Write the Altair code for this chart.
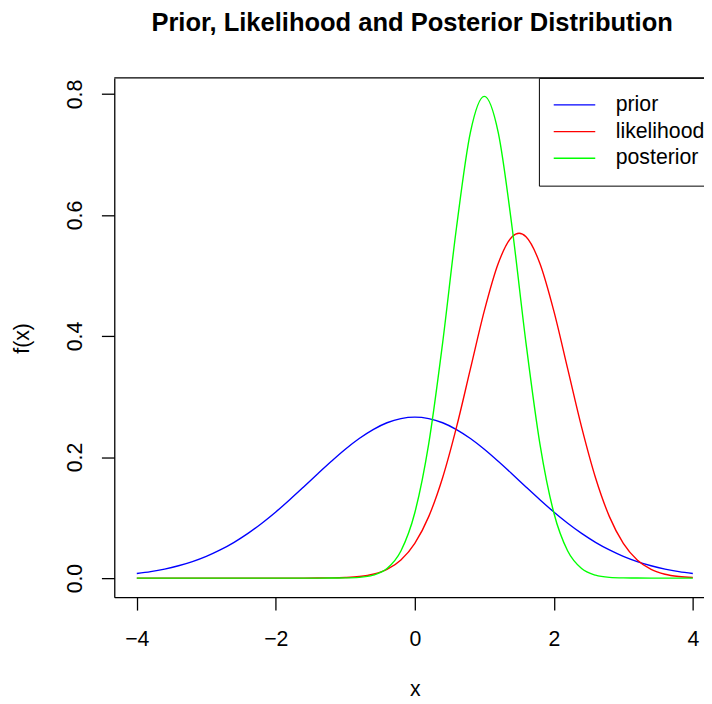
import altair as alt
import pandas as pd

# ---- data ----
series_names = ["prior", "likelihood", "posterior"]
series_colors = ["#0000ff", "#ff0000", "#00ff00"]

x_grid = [-4.0, -3.8, -3.6, -3.4, -3.2, -3.0, -2.8, -2.6, -2.4, -2.2,
          -2.0, -1.8, -1.6, -1.4, -1.2, -1.0, -0.8, -0.6, -0.4, -0.2,
          0.0, 0.2, 0.4, 0.6, 0.8, 1.0, 1.2, 1.4, 1.6, 1.8,
          2.0, 2.2, 2.4, 2.6, 2.8, 3.0, 3.2, 3.4, 3.6, 3.8, 4.0]

prior = [0.0076, 0.0107, 0.0149, 0.0204, 0.0273, 0.0360, 0.0466, 0.0592, 0.0739, 0.0907,
         0.1093, 0.1295, 0.1506, 0.1721, 0.1931, 0.2130, 0.2307, 0.2455, 0.2567, 0.2636,
         0.2660, 0.2636, 0.2567, 0.2455, 0.2307, 0.2130, 0.1931, 0.1721, 0.1506, 0.1295,
         0.1093, 0.0907, 0.0739, 0.0592, 0.0466, 0.0360, 0.0273, 0.0204, 0.0149, 0.0107, 0.0076]

x_likelihood = [-4.0, -3.8, -3.6, -3.4, -3.2, -3.0, -2.8, -2.6, -2.4, -2.2,
                -2.0, -1.8, -1.6, -1.4, -1.2, -1.0, -0.8, -0.6, -0.4, -0.2,
                0.0, 0.2, 0.4, 0.6, 0.8, 1.0, 1.2, 1.4, 1.5, 1.6, 1.8,
                2.0, 2.2, 2.4, 2.6, 2.8, 3.0, 3.2, 3.4, 3.6, 3.8, 4.0]
likelihood = [0.0, 0.0, 0.0, 0.0, 0.0, 0.0, 0.0, 0.0, 0.0, 0.0,
              0.0, 0.0, 0.0, 0.0001, 0.0003, 0.0010, 0.0026, 0.0063, 0.0143, 0.0299,
              0.0574, 0.1016, 0.1658, 0.2494, 0.3457, 0.4416, 0.5199, 0.5641, 0.5699, 0.5641, 0.5199,
              0.4416, 0.3457, 0.2494, 0.1658, 0.1016, 0.0574, 0.0299, 0.0143, 0.0063, 0.0026, 0.0010]

posterior = [0.0, 0.0, 0.0, 0.0, 0.0, 0.0, 0.0, 0.0, 0.0, 0.0,
             0.0, 0.0, 0.0, 0.0, 0.0001, 0.0003, 0.0012, 0.0048, 0.0158, 0.0448,
             0.1080, 0.2218, 0.3884, 0.5794, 0.7365, 0.7960, 0.7365, 0.5794, 0.3884, 0.2218,
             0.1080, 0.0448, 0.0158, 0.0048, 0.0012, 0.0003, 0.0001, 0.0, 0.0, 0.0, 0.0]

x_ticks = [-4, -2, 0, 2, 4]
y_ticks = [0.0, 0.2, 0.4, 0.6, 0.8]

# ---- long table ----
rows = []
for xv, yv in zip(x_grid, prior):
    rows.append({"x": xv, "y": yv, "series": "prior"})
for xv, yv in zip(x_likelihood, likelihood):
    rows.append({"x": xv, "y": yv, "series": "likelihood"})
for xv, yv in zip(x_grid, posterior):
    rows.append({"x": xv, "y": yv, "series": "posterior"})
df = pd.DataFrame(rows)

FONT = "Liberation Sans"
Y_TOP = 0.8266
xscale = alt.Scale(domain=[-4.324, 4.161], nice=False, zero=False)
yscale = alt.Scale(domain=[-0.0316, Y_TOP], nice=False, zero=False)

lines = alt.Chart(df).mark_line(strokeWidth=1.4, interpolate="monotone").encode(
    x=alt.X("x:Q", scale=xscale,
            axis=alt.Axis(values=x_ticks, format="d", title="x",
                          labelFontSize=21.5, labelFont=FONT, labelColor="black",
                          labelBaseline="alphabetic", labelPadding=35.5,
                          tickSize=13, tickColor="black", tickWidth=1.3,
                          domainColor="black", domainWidth=1.3,
                          titleFont=FONT, titleFontSize=21.5, titleFontWeight="normal",
                          titleColor="black", titleX=304, titleY=99,
                          titleAlign="center", titleBaseline="alphabetic",
                          labelFlush=False, grid=False)),
    y=alt.Y("y:Q", scale=yscale,
            axis=alt.Axis(values=y_ticks, format=".1f", title="f(x)",
                          labelFontSize=21.5, labelFont=FONT, labelColor="black",
                          labelAngle=270, labelAlign="center", labelBaseline="alphabetic",
                          labelPadding=20,
                          tickSize=13, tickColor="black", tickWidth=1.3,
                          domainColor="black", domainWidth=1.3,
                          titleFont=FONT, titleFontSize=21.5, titleFontWeight="normal",
                          titleColor="black", titleAngle=270, titleX=-87, titleY=263,
                          titleAlign="center", titleBaseline="alphabetic",
                          labelFlush=False, grid=False)),
    color=alt.Color("series:N",
                    scale=alt.Scale(domain=series_names, range=series_colors),
                    sort=series_names,
                    legend=alt.Legend(orient="none", legendX=429.5, legendY=0, title=None,
                                      padding=14, symbolType="stroke", symbolSize=1764,
                                      symbolStrokeWidth=1.4, clipHeight=26.65, rowPadding=0,
                                      labelFontSize=21.5, labelFont=FONT, labelColor="black",
                                      labelOffset=19.7, labelLimit=0,
                                      strokeColor="black", fillColor="white", cornerRadius=0)),
)

frame_top = alt.Chart(pd.DataFrame({"v": [Y_TOP]})).mark_rule(
    color="black", strokeWidth=1.3).encode(y=alt.Y("v:Q", scale=yscale))

chart = alt.layer(lines, frame_top).properties(
    width=596.5,
    height=525.3,
    autosize=alt.AutoSizeParams(type="none"),
    padding={"left": 107.5, "top": 66.7, "right": 0, "bottom": 104},
    title=alt.Title("Prior, Likelihood and Posterior Distribution",
                    fontSize=25.8, fontWeight="bold", font=FONT, color="black",
                    anchor="middle", frame="group", baseline="alphabetic",
                    offset=20.6, dx=3),
).configure_view(stroke=None)

chart.save("out.html", embed_options={"renderer": "svg", "actions": False})
